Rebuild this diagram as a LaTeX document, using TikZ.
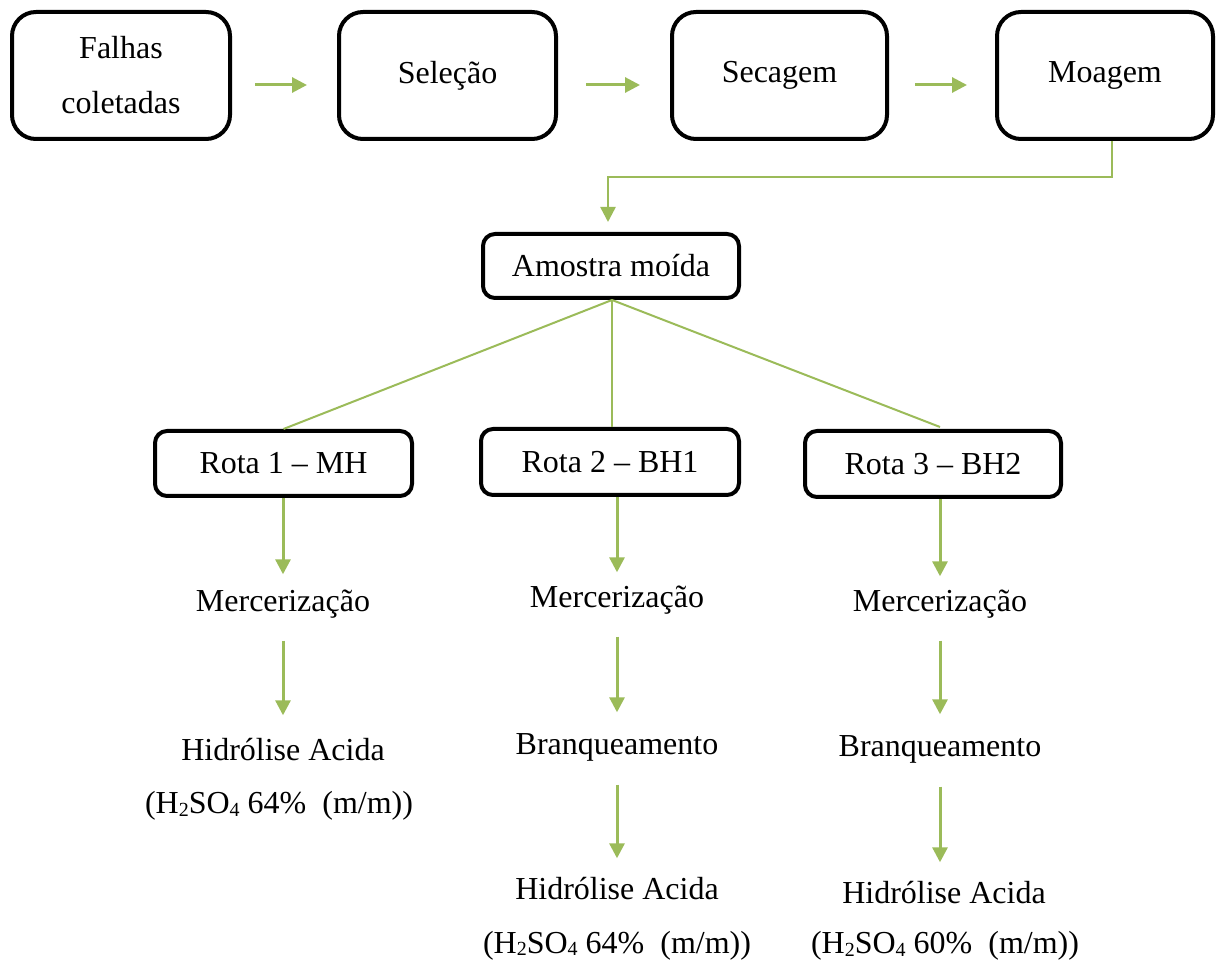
\documentclass[tikz,border=0pt]{standalone}
\usepackage{fontspec}
\setmainfont{Liberation Serif}
\usetikzlibrary{arrows.meta,calc}
\definecolor{lgreen}{RGB}{155,187,89}
\newcommand{\subsc}[1]{\raisebox{-2.5pt}{\fontsize{20}{20}\selectfont #1}}
\tikzset{
  bigbox/.style={draw=black,line width=4pt,rounded corners=24pt,align=center,inner sep=0pt,font=\fontsize{32}{55}\selectfont},
  smallbox/.style={draw=black,line width=4pt,rounded corners=12pt,align=center,inner sep=0pt,font=\fontsize{32}{55}\selectfont},
  lbl/.style={inner sep=0pt,anchor=base,text height=22pt,text depth=7pt,font=\fontsize{32}{55}\selectfont},
  flow/.style={draw=lgreen,line width=3pt,-{Triangle[length=15pt,width=15pt]}},
  branch/.style={draw=lgreen,line width=2pt},
}
\begin{document}
\begin{tikzpicture}[x=1pt,y=-1pt]
\useasboundingbox (0,0) rectangle (1219,965);
% top row
\node[bigbox,minimum width=218pt,minimum height=127pt] (b1) at (121,75.5) {Falhas\\coletadas};
\node[bigbox,minimum width=217pt,minimum height=127pt] (b2) at (447.5,75.5) {Seleção};
\node[bigbox,minimum width=215pt,minimum height=127pt] (b3) at (779.5,75.5) {Secagem};
\node[bigbox,minimum width=216pt,minimum height=127pt] (b4) at (1105,75.5) {Moagem};
\draw[flow,shorten <=23pt,shorten >=30pt] ([yshift=-9.5pt]b1.east) -- ([yshift=-9.5pt]b2.west);
\draw[flow,shorten <=28pt,shorten >=30pt] ([yshift=-9.5pt]b2.east) -- ([yshift=-9.5pt]b3.west);
\draw[flow,shorten <=26pt,shorten >=28pt] ([yshift=-9.5pt]b3.east) -- ([yshift=-9.5pt]b4.west);
% amostra
\node[smallbox,minimum width=256pt,minimum height=64pt] (am) at (611,266) {Amostra moída};
\draw[flow,line width=2.5pt,shorten >=10pt] ([xshift=7pt]b4.south) -- ++(0,36) -| ([xshift=-3pt]am.north);
% routes
\node[smallbox,minimum width=257pt,minimum height=65pt] (r1) at (283.5,463.5) {Rota 1 – MH};
\node[smallbox,minimum width=258pt,minimum height=66pt] (r2) at (610,462) {Rota 2 – BH1};
\node[smallbox,minimum width=256pt,minimum height=66pt] (r3) at (933,464) {Rota 3 – BH2};
\draw[branch] ([xshift=1pt]am.south) -- (r1.north);
\draw[branch] ([xshift=1pt]am.south) -- ([xshift=2pt]r2.north);
\draw[branch] ([xshift=1pt]am.south) -- ([xshift=7pt,yshift=2pt]r3.north);
% route 1
\node[lbl] (m1) at (283,611.5) {Mercerização};
\node[lbl] (h1) at (283,760.5) {Hidrólise Acida};
\node[lbl] (q1) at (279,813.5) {(H\subsc{2}SO\subsc{4} 64\%\ \ (m/m))};
\draw[flow,shorten >=15pt] (m1.north |- r1.south) -- (m1.north);
\draw[flow,shorten <=22pt,shorten >=23pt] (m1.south) -- (h1.north);
% route 2
\node[lbl] (m2) at (617,607.5) {Mercerização};
\node[lbl] (w2) at (617,754.5) {Branqueamento};
\node[lbl] (h2) at (617,899.5) {Hidrólise Acida};
\node[lbl] (q2) at (617,953) {(H\subsc{2}SO\subsc{4} 64\%\ \ (m/m))};
\draw[flow,shorten >=13pt] (m2.north |- r2.south) -- (m2.north);
\draw[flow,shorten <=22pt,shorten >=20pt] (m2.south) -- (w2.north);
\draw[flow,shorten <=23pt,shorten >=19pt] (w2.south) -- (h2.north);
% route 3
\node[lbl] (m3) at (940,611.5) {Mercerização};
\node[lbl] (w3) at (940,756.5) {Branqueamento};
\node[lbl] (h3) at (944,903.5) {Hidrólise Acida};
\node[lbl] (q3) at (945,953.5) {(H\subsc{2}SO\subsc{4} 60\%\ \ (m/m))};
\draw[flow,shorten >=13pt] (m3.north |- r3.south) -- (m3.north);
\draw[flow,shorten <=22pt,shorten >=20pt] (m3.south) -- (w3.north);
\draw[flow,shorten <=23pt,shorten >=19pt] (w3.south) -- (w3.north |- h3.north);
\end{tikzpicture}
\end{document}
